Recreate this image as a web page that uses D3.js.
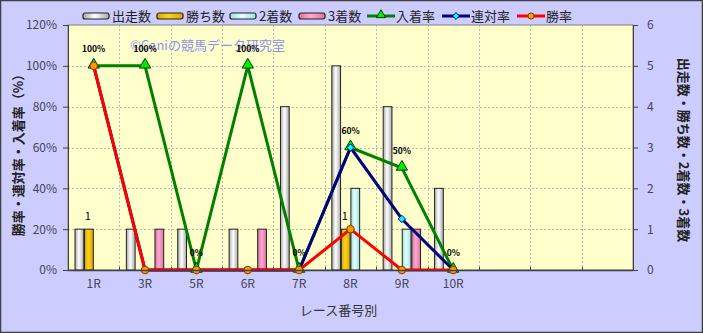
<!DOCTYPE html>
<html>
<head>
<meta charset="utf-8">
<script src="https://cdn.jsdelivr.net/npm/d3@7"></script>
<style>
  body { margin: 0; background: #fff; }
  text { font-family: "Noto Sans CJK JP", "Liberation Sans", sans-serif; }
</style>
</head>
<body>
<script>
// race categories (last three slots are empty on the axis)
const races = ["1R", "3R", "5R", "6R", "7R", "8R", "9R", "10R", "", " ", "  "];
const raceLabels = ["1R", "3R", "5R", "6R", "7R", "8R", "9R", "10R"];

// counts (right axis)
const starts = [1, 1, 1, 1, 4, 5, 4, 2];
const wins = [1, 0, 0, 0, 0, 1, 0, 0];
const seconds = [0, 0, 0, 0, 0, 2, 1, 0];
const thirds = [0, 1, 0, 1, 0, 0, 1, 0];

// rates in % (left axis)
const placeRate = [100, 100, 0, 100, 0, 60, 50, 0];
const quinellaRate = [100, 0, 0, 0, 0, 60, 25, 0];
const winRate = [100, 0, 0, 0, 0, 20, 0, 0];

const leftTicks = [0, 20, 40, 60, 80, 100, 120];
const rightTicks = [0, 1, 2, 3, 4, 5, 6];

const W = 703, H = 333;
const margin = { top: 25, right: 70, bottom: 63, left: 68 };
const pw = W - margin.left - margin.right;
const ph = H - margin.top - margin.bottom;

const svg = d3.select("body").append("svg")
    .attr("width", W)
    .attr("height", H);

const defs = svg.append("defs");
function barGrad(id, edge, mid) {
    const g = defs.append("linearGradient").attr("id", id)
        .attr("x1", "0%").attr("x2", "100%").attr("y1", "0%").attr("y2", "0%");
    g.append("stop").attr("offset", "0%").attr("stop-color", edge);
    g.append("stop").attr("offset", "45%").attr("stop-color", mid);
    g.append("stop").attr("offset", "100%").attr("stop-color", edge);
}
barGrad("gWhite", "#a8a8a8", "#ffffff");
barGrad("gGold", "#d9a400", "#ffd21a");
barGrad("gCyan", "#99e0e0", "#e6ffff");
barGrad("gPink", "#d9709f", "#ffaad0");

// outer background
svg.append("rect")
    .attr("x", 0.5).attr("y", 0.5)
    .attr("width", W - 1).attr("height", H - 1)
    .attr("fill", "#ccccff")
    .attr("stroke", "#404040")
    .attr("stroke-width", 1.5);

const g = svg.append("g")
    .attr("transform", `translate(${margin.left}, ${margin.top})`);

const x = d3.scaleBand().domain(races).range([0, pw]).padding(0);
const seriesKeys = ["starts", "wins", "seconds", "thirds"];
const xInner = d3.scaleBand().domain(seriesKeys)
    .range([7, x.bandwidth() - 7]).paddingInner(0.08);
const yL = d3.scaleLinear().domain([0, 120]).range([ph, 0]);
const yR = d3.scaleLinear().domain([0, 6]).range([ph, 0]);

// plot area
g.append("rect")
    .attr("width", pw).attr("height", ph)
    .attr("fill", "#ffffcc")
    .attr("stroke", "#808080");

// grid
g.append("g").selectAll("line")
    .data(leftTicks.slice(1, -1))
    .join("line")
        .attr("x1", 0).attr("x2", pw)
        .attr("y1", d => Math.round(yL(d)) + 0.5)
        .attr("y2", d => Math.round(yL(d)) + 0.5)
        .attr("stroke", "#b8b8b0")
        .attr("stroke-dasharray", "2,2");
g.append("g").selectAll("line")
    .data(races.slice(1))
    .join("line")
        .attr("x1", d => Math.round(x(d)) + 0.5)
        .attr("x2", d => Math.round(x(d)) + 0.5)
        .attr("y1", 0).attr("y2", ph)
        .attr("stroke", "#b8b8b0")
        .attr("stroke-dasharray", "2,2");

// bars
const barSeries = [
    { key: "starts", vals: starts, fill: "url(#gWhite)" },
    { key: "wins", vals: wins, fill: "url(#gGold)" },
    { key: "seconds", vals: seconds, fill: "url(#gCyan)" },
    { key: "thirds", vals: thirds, fill: "url(#gPink)" },
];
barSeries.forEach(s => {
    g.append("g").selectAll("rect")
        .data(s.vals.map((v, i) => ({ race: raceLabels[i], v })).filter(d => d.v > 0))
        .join("rect")
            .attr("x", d => x(d.race) + xInner(s.key))
            .attr("width", xInner.bandwidth())
            .attr("y", d => yR(d.v))
            .attr("height", d => ph - yR(d.v))
            .attr("fill", s.fill)
            .attr("stroke", "#222")
            .attr("stroke-width", 1);
});

// labels on wins bars
g.append("g").selectAll("text")
    .data(wins.map((v, i) => ({ race: raceLabels[i], v })).filter(d => d.v > 0))
    .join("text")
        .attr("x", d => x(d.race) + xInner("wins") + xInner.bandwidth() / 2 - 1)
        .attr("y", d => yR(d.v) - 9)
        .attr("text-anchor", "middle")
        .attr("font-size", 11)
        .attr("fill", "#000")
        .text(d => d.v);

// watermark
g.append("text")
    .attr("x", 62).attr("y", 25)
    .attr("font-size", 13)
    .attr("fill", "#8f8ff0")
    .text("©Caniの競馬データ研究室");

// lines
const cx = (d, i) => x(raceLabels[i]) + x.bandwidth() / 2;
const lineSeries = [
    { vals: placeRate, color: "#008000", marker: "tri", mfill: "#00ee00", mstroke: "#004000" },
    { vals: quinellaRate, color: "#000080", marker: "dia", mfill: "#00ffff", mstroke: "#000080" },
    { vals: winRate, color: "#ff0000", marker: "circ", mfill: "#ff9900", mstroke: "#7a3a00" },
];
const line = d3.line().x(cx).y(d => yL(d));
lineSeries.forEach(s => {
    g.append("path")
        .datum(s.vals)
        .attr("d", line)
        .attr("fill", "none")
        .attr("stroke", s.color)
        .attr("stroke-width", 3)
        .attr("stroke-linejoin", "round");
});
lineSeries.forEach(s => {
    const sym = s.marker === "tri" ? d3.symbolTriangle
        : s.marker === "dia" ? d3.symbolDiamond2 : d3.symbolCircle;
    const size = s.marker === "tri" ? 55 : s.marker === "dia" ? 34 : 45;
    g.append("g").selectAll("path")
        .data(s.vals)
        .join("path")
            .attr("transform", (d, i) => `translate(${cx(d, i)}, ${yL(d) + (s.marker === "tri" ? -1 : 0)})`)
            .attr("d", d3.symbol(sym, size))
            .attr("fill", s.mfill)
            .attr("stroke", s.mstroke)
            .attr("stroke-width", 1);
});

// rate labels on 入着率
g.append("g").selectAll("text")
    .data(placeRate)
    .join("text")
        .attr("x", cx)
        .attr("y", d => yL(d) - 14)
        .attr("text-anchor", "middle")
        .attr("font-family", "DejaVu Sans")
        .attr("font-weight", "bold")
        .attr("font-size", 8.5)
        .attr("fill", "#000")
        .text(d => d + "%");

// axes
const axisColor = "#404040";
g.append("line")
    .attr("x1", 0.5).attr("x2", 0.5).attr("y1", 0).attr("y2", ph)
    .attr("stroke", axisColor);
g.append("line")
    .attr("x1", pw + 0.5).attr("x2", pw + 0.5).attr("y1", 0).attr("y2", ph)
    .attr("stroke", axisColor);
g.append("line")
    .attr("x1", 0).attr("x2", pw).attr("y1", ph + 0.5).attr("y2", ph + 0.5)
    .attr("stroke", axisColor).attr("stroke-width", 1.5);

const leftAxis = g.append("g")
    .call(d3.axisLeft(yL).tickValues(leftTicks).tickFormat(d => d + "%").tickSize(5).tickPadding(6));
const rightAxis = g.append("g")
    .attr("transform", `translate(${pw}, 0)`)
    .call(d3.axisRight(yR).tickValues(rightTicks).tickFormat(d3.format("d")).tickSize(5).tickPadding(9));
[leftAxis, rightAxis].forEach(a => {
    a.select(".domain").remove();
    a.selectAll(".tick line").attr("stroke", axisColor);
    a.selectAll(".tick text")
        .attr("font-family", "Liberation Sans, Arial, sans-serif")
        .attr("font-size", 12)
        .attr("fill", "#444455");
});

const bottomAxis = g.append("g")
    .attr("transform", `translate(0, ${ph})`)
    .call(d3.axisBottom(x).tickValues(raceLabels).tickSize(0).tickPadding(9));
bottomAxis.select(".domain").remove();
bottomAxis.selectAll(".tick text")
    .attr("font-family", "Liberation Sans, Arial, sans-serif")
    .attr("font-size", 12)
    .attr("fill", "#444455");
// small inner ticks at category boundaries
g.append("g").selectAll("line")
    .data(races.slice(1))
    .join("line")
        .attr("x1", d => Math.round(x(d)) + 0.5)
        .attr("x2", d => Math.round(x(d)) + 0.5)
        .attr("y1", ph - 3).attr("y2", ph)
        .attr("stroke", axisColor);

// axis titles
svg.append("text")
    .attr("x", margin.left + pw / 2 - 12).attr("y", 315)
    .attr("text-anchor", "middle")
    .attr("font-size", 13)
    .attr("fill", "#333")
    .text("レース番号別");
svg.append("text")
    .attr("transform", "translate(23, 152) rotate(-90)")
    .attr("text-anchor", "middle")
    .attr("font-size", 13)
    .attr("font-weight", "bold")
    .attr("fill", "#222")
    .text("勝率・連対率・入着率（%）");
svg.append("text")
    .attr("transform", "translate(679, 150) rotate(90)")
    .attr("text-anchor", "middle")
    .attr("font-size", 13)
    .attr("font-weight", "bold")
    .attr("fill", "#222")
    .text("出走数・勝ち数・2着数・3着数");

// legend
const legendItems = [
    { name: "出走数", type: "bar", fill: "url(#gWhite)", x: 83 },
    { name: "勝ち数", type: "bar", fill: "url(#gGold)", x: 157 },
    { name: "2着数", type: "bar", fill: "url(#gCyan)", x: 230 },
    { name: "3着数", type: "bar", fill: "url(#gPink)", x: 299 },
    { name: "入着率", type: "line", s: lineSeries[0], x: 367 },
    { name: "連対率", type: "line", s: lineSeries[1], x: 442 },
    { name: "勝率", type: "line", s: lineSeries[2], x: 517 },
];
const lg = svg.append("g").attr("transform", "translate(0, 16)");
legendItems.forEach(it => {
    if (it.type === "bar") {
        lg.append("rect")
            .attr("x", it.x).attr("y", -3)
            .attr("width", 26).attr("height", 6)
            .attr("rx", 2)
            .attr("fill", it.fill)
            .attr("stroke", "#222")
            .attr("stroke-width", 1.2);
    } else {
        lg.append("line")
            .attr("x1", it.x).attr("x2", it.x + 28)
            .attr("stroke", it.s.color).attr("stroke-width", 3);
        const sym = it.s.marker === "tri" ? d3.symbolTriangle
            : it.s.marker === "dia" ? d3.symbolDiamond2 : d3.symbolCircle;
        lg.append("path")
            .attr("transform", `translate(${it.x + 14}, ${it.s.marker === "tri" ? -1 : 0})`)
            .attr("d", d3.symbol(sym, it.s.marker === "tri" ? 36 : 30))
            .attr("fill", it.s.mfill)
            .attr("stroke", it.s.mstroke);
    }
    lg.append("text")
        .attr("x", it.x + 29).attr("y", 5)
        .attr("font-size", 13)
        .attr("fill", "#222")
        .text(it.name);
});
</script>
</body>
</html>
